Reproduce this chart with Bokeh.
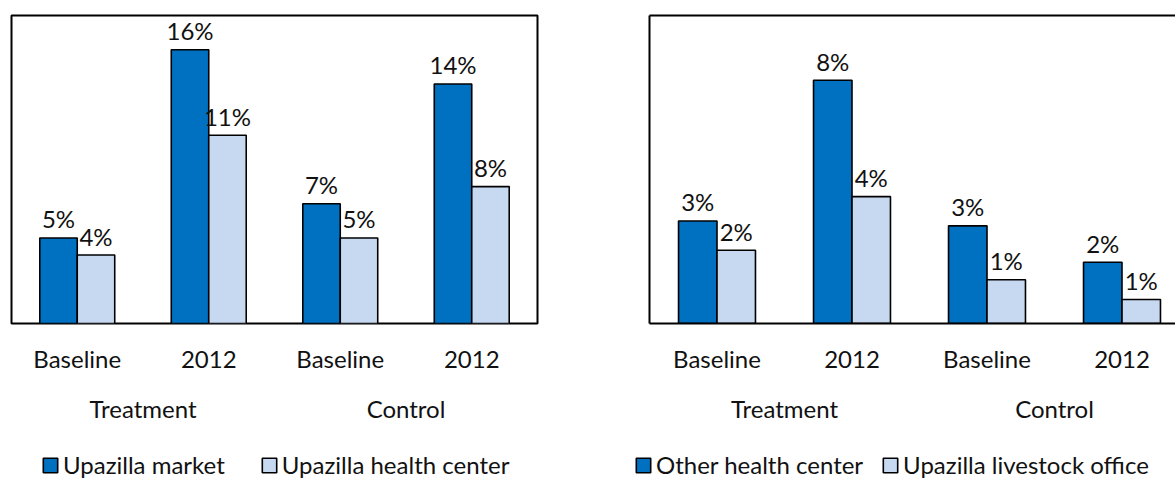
from bokeh.plotting import figure
from bokeh.models import Range1d, FixedTicker, LinearAxis, Legend, LegendItem, ColumnDataSource
from bokeh.layouts import row, column
from bokeh.embed import file_html
from bokeh.resources import INLINE
from bokeh.core.properties import value

# ---- data ----
periods = ["Baseline", "2012", "Baseline", "2012"]
groups = ["Treatment", "Control"]

left_series = ["Upazilla market", "Upazilla health center"]
left_market = [5, 16, 7, 14]
left_health = [4, 11, 5, 8]

right_series = ["Other health center", "Upazilla livestock office"]
right_other = [3.33, 7.90, 3.17, 1.99]
right_livestock = [2.38, 4.12, 1.42, 0.78]

DARK = "#0070C0"
LIGHT = "#C6D9F1"
FONT = "Lato"
FS = "24px"
BAR_W = 0.285
CHART_H = 450
LEG_H = 29


def make_chart(s1, s2, ymax, xmax, width, b_left, b_right, b_top, frame_h, boxed):
    n = len(periods)
    xc = [i + 0.5 for i in range(n)]
    gc = [(xc[2 * k] + xc[2 * k + 1]) / 2 for k in range(len(groups))]
    p = figure(width=width, height=CHART_H,
               x_range=Range1d(0, xmax), y_range=Range1d(0, ymax),
               output_backend="svg", toolbar_location=None,
               min_border_left=b_left, min_border_right=b_right,
               min_border_top=b_top, min_border_bottom=CHART_H - b_top - frame_h)
    p.xgrid.visible = False
    p.ygrid.visible = False
    p.background_fill_color = "white"
    p.border_fill_color = "white"

    src = ColumnDataSource(dict(
        x1=[x - BAR_W / 2 for x in xc], x2=[x + BAR_W / 2 for x in xc],
        s1=s1, s2=s2,
        l1=[f"{round(v)}%" for v in s1], l2=[f"{round(v)}%" for v in s2]))

    p.vbar(x="x1", top="s1", width=BAR_W, source=src, fill_color=DARK,
           line_color="black", line_width=1.6)
    p.vbar(x="x2", top="s2", width=BAR_W, source=src, fill_color=LIGHT,
           line_color="black", line_width=1.6)
    for xcol, ycol, lcol in (("x1", "s1", "l1"), ("x2", "s2", "l2")):
        p.text(x=xcol, y=ycol, text=lcol, source=src, text_align="center",
               text_baseline="alphabetic", y_offset=-19,
               text_font=value(FONT), text_font_size=FS, text_color="#111111")

    xa = p.xaxis[0]
    xa.ticker = FixedTicker(ticks=xc)
    xa.major_label_overrides = {x: lab for x, lab in zip(xc, periods)}
    xa.major_tick_in = 0
    xa.major_tick_out = 0
    xa.minor_tick_in = 0
    xa.minor_tick_out = 0
    xa.major_label_standoff = 20
    xa.major_label_text_font = FONT
    xa.major_label_text_font_size = FS
    xa.major_label_text_color = "#111111"

    ga = LinearAxis(ticker=FixedTicker(ticks=gc),
                    major_label_overrides={x: lab for x, lab in zip(gc, groups)},
                    major_tick_in=0, major_tick_out=0, minor_tick_in=0, minor_tick_out=0,
                    axis_line_color=None, major_label_standoff=18,
                    major_label_text_font=FONT, major_label_text_font_size=FS,
                    major_label_text_color="#111111")
    p.add_layout(ga, "below")

    if boxed:
        p.outline_line_color = "black"
        p.outline_line_width = 2
        p.outline_line_alpha = 1
        p.yaxis.visible = False
        xa.axis_line_color = None
    else:
        p.outline_line_color = None
        xa.axis_line_color = "black"
        xa.axis_line_width = 2
        ya = p.yaxis[0]
        ya.ticker = FixedTicker(ticks=[])
        ya.major_label_text_font_size = "0px"
        ya.major_tick_in = ya.major_tick_out = ya.minor_tick_in = ya.minor_tick_out = 0
        ya.axis_line_width = 2
        ta = LinearAxis(ticker=FixedTicker(ticks=[]), major_label_text_font_size="0px",
                        major_tick_in=0, major_tick_out=0, minor_tick_in=0, minor_tick_out=0,
                        axis_line_width=2)
        p.add_layout(ta, "above")
    return p


def make_legend(names, s1, s2, width, loc, spacing):
    # legend strip: the series' bars are hidden here, only their legend keys show
    p = figure(width=width, height=LEG_H, x_range=Range1d(0, 1), y_range=Range1d(0, 1),
               output_backend="svg", toolbar_location=None,
               min_border_left=0, min_border_right=0, min_border_top=0, min_border_bottom=0)
    p.axis.visible = False
    p.grid.visible = False
    p.outline_line_color = None
    src = ColumnDataSource(dict(x=[i + 0.5 for i in range(len(periods))], s1=s1, s2=s2))
    rs = []
    for col, c in (("s1", DARK), ("s2", LIGHT)):
        r = p.vbar(x="x", top=col, width=BAR_W, source=src, fill_color=c,
                   line_color="black", line_width=1.6)
        r.visible = False
        rs.append(r)
    leg = Legend(items=[LegendItem(label=nm, renderers=[r]) for nm, r in zip(names, rs)],
                 location=loc, orientation="horizontal", glyph_width=18, glyph_height=18,
                 label_standoff=4, padding=0, margin=0, spacing=spacing,
                 border_line_color=None, background_fill_alpha=0,
                 inactive_fill_alpha=0,
                 label_text_font=FONT, label_text_font_size=FS,
                 label_text_color="#111111")
    p.add_layout(leg, "center")
    return p


p_left = make_chart(left_market, left_health, 18, 4.0,
                    width=560, b_left=11, b_right=23, b_top=14, frame_h=309, boxed=True)
p_right = make_chart(right_other, right_livestock, 10, 526 / 135,
                     width=615, b_left=89, b_right=0, b_top=15, frame_h=313, boxed=False)
l_left = make_legend(left_series, left_market, left_health, 560, (41, 0), 35)
l_right = make_legend(right_series, right_other, right_livestock, 615, (74, 0), 18)

layout = column(row(p_left, p_right), row(l_left, l_right))
open("out.html", "w").write(file_html(layout, INLINE))
